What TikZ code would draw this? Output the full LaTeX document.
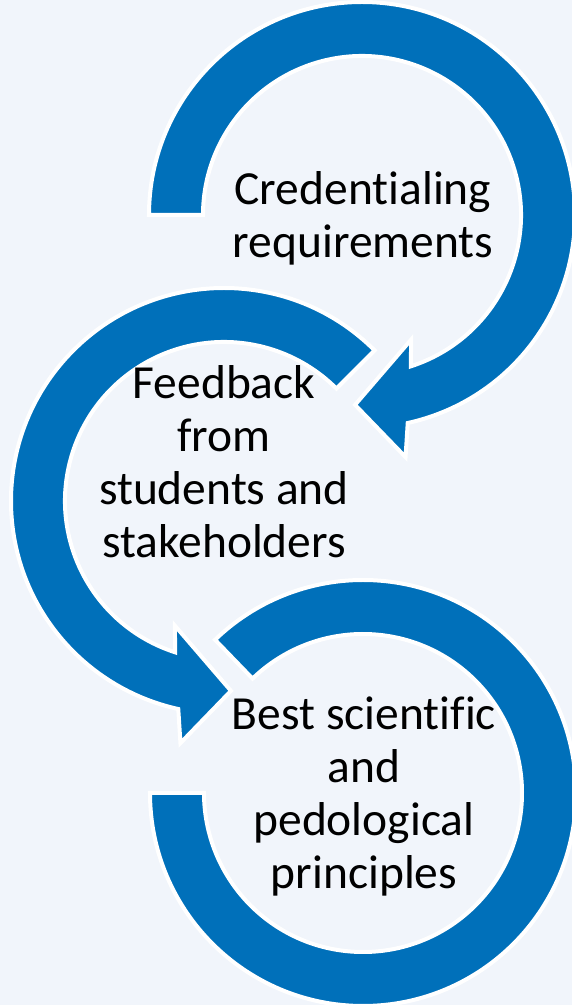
\documentclass[tikz,border=0pt]{standalone}
\usepackage{xcolor}
\usepackage{fontspec}
\setmainfont{Carlito}[Ligatures={NoCommon}]
\usepackage{tikz}
\usetikzlibrary{calc}
\definecolor{pagebg}{HTML}{F1F5FB}
\definecolor{ringblue}{HTML}{0070BA}

\begin{document}
\begin{tikzpicture}[
    x=1pt, y=1pt,
    ring/.style={fill=ringblue, draw=white, line width=4pt, line join=miter},
    ringtext/.style={font=\fontsize{47.5}{53}\selectfont, align=center, text=black, inner sep=0pt}
  ]
    % Page
    \fill[pagebg] (0,0) rectangle (572,1005);
    \useasboundingbox (0,0) rectangle (572,1005);

    % Ring centres
    \coordinate (c1) at (362,790);
    \coordinate (c2) at (224,504);
    \coordinate (c3) at (363,212);

    % Bottom ring (no head)
    \filldraw[ring] ([shift={(180:213)}]c3) arc[start angle=180, end angle=494, radius=213]
      -- ([shift={(134:159)}]c3) arc[start angle=134, end angle=-180, radius=159] -- cycle;

    % Middle ring, head at the bottom
    \filldraw[ring] ([shift={(45:213)}]c2) arc[start angle=45, end angle=257.6, radius=213]
      -- ([shift={(259.8:246)}]c2) -- ([shift={(272.1:190)}]c2)
      -- ([shift={(248.5:134)}]c2) -- ([shift={(252.1:159)}]c2)
      arc[start angle=252.1, end angle=45, radius=159] -- cycle;

    % Top ring, head at the bottom
    \filldraw[ring] ([shift={(180:213)}]c1) arc[start angle=180, end angle=-77.6, radius=213]
      -- ([shift={(-79.8:246)}]c1) -- ([shift={(-92.1:190)}]c1)
      -- ([shift={(-68.5:134)}]c1) -- ([shift={(-72.1:159)}]c1)
      arc[start angle=-72.1, end angle=180, radius=159] -- cycle;

    % Texts
    \node[ringtext] (cred) at (363,787) {Credentialing\\requirements};
    \node[ringtext] (feed) at (224,543) {Feedback\\from\\students and\\stakeholders};
    \node[ringtext] (best) at (364,209) {Best scientific\\and\\pedological\\principles};
  \end{tikzpicture}
\end{document}
